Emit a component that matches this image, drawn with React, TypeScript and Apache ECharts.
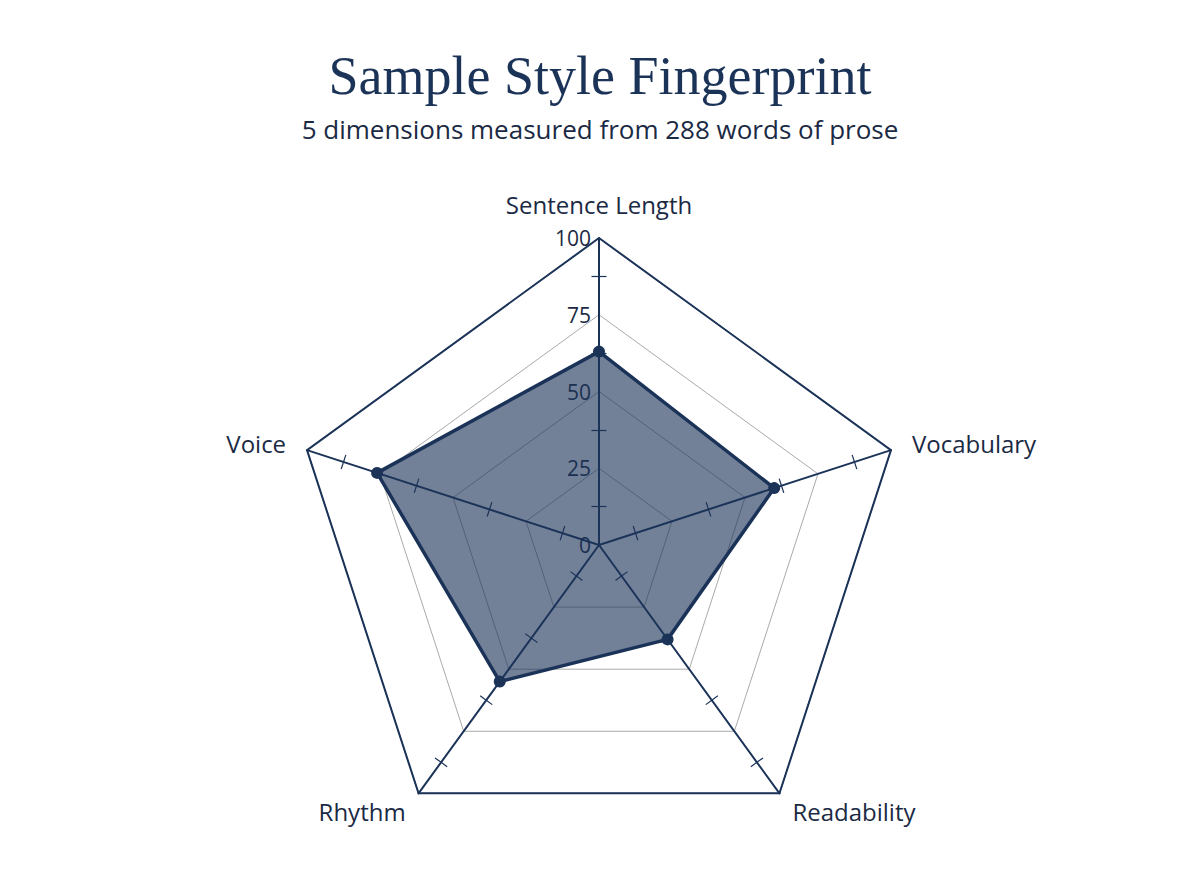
import { useRef, useEffect } from 'react';
import * as echarts from 'echarts';

// indicators listed counter-clockwise from the top
const dimensions = ['Sentence Length', 'Voice', 'Rhythm', 'Readability', 'Vocabulary'];
const scores = [63, 76, 55, 38, 60];
const maxScore = 100;

const NAVY = '#1c3358';
const TEXT = '#1b2a44';

export default function App() {
  const chartRef = useRef<HTMLDivElement>(null);

  useEffect(() => {
    if (!chartRef.current) return;
    const chart = echarts.init(chartRef.current, null, { renderer: 'svg' });

    // ticks drawn half on each side of the spoke (two stacked radars)
    const minorTick = (len: number) => ({
      show: true,
      splitNumber: 2,
      length: len,
      lineStyle: { color: NAVY, width: 1.2 },
    });

    const radarBase = {
      center: [591, 537],
      radius: 307,
      startAngle: 90,
      splitNumber: 4,
      shape: 'polygon' as const,
    };

    const option = {
      animation: false,
      backgroundColor: '#ffffff',
      title: [
        {
          text: 'Sample Style Fingerprint',
          left: 'center',
          top: 36,
          textStyle: {
            fontFamily: '"Liberation Serif", serif',
            fontWeight: 'normal',
            fontSize: 54,
            color: NAVY,
          },
        },
        {
          text: '5 dimensions measured from 288 words of prose',
          left: 'center',
          top: 103,
          textStyle: {
            fontFamily: '"Open Sans", sans-serif',
            fontWeight: 'normal',
            fontSize: 26,
            color: TEXT,
          },
        },
      ],
      radar: [
        {
          ...radarBase,
          nameGap: 22,
          axisName: {
            color: TEXT,
            fontFamily: '"Open Sans", sans-serif',
            fontSize: 24,
          },
          indicator: dimensions.map((name, i) => ({
            name,
            max: maxScore,
            min: 0,
            axisLabel: { show: i === 0 },
            minorTick: minorTick(7.5),
          })),
          axisLine: { lineStyle: { color: NAVY, width: 2 } },
          axisTick: { show: false },
          axisLabel: {
            show: true,
            color: TEXT,
            fontFamily: '"Open Sans", sans-serif',
            fontSize: 21,
            margin: 8,
          },
          splitLine: {
            lineStyle: {
              color: ['#aaaaaa', '#aaaaaa', '#aaaaaa', '#aaaaaa', NAVY],
              width: 1,
            },
          },
          splitArea: { show: false },
        },
        {
          ...radarBase,
          axisName: { show: false },
          indicator: dimensions.map((name) => ({
            name,
            max: maxScore,
            min: 0,
            axisLabel: { show: false },
            minorTick: minorTick(-7.5),
          })),
          axisLine: { show: false },
          axisTick: { show: false },
          axisLabel: { show: false },
          // heavier outer ring only
          splitLine: {
            lineStyle: {
              color: ['transparent', 'transparent', 'transparent', 'transparent', NAVY],
              width: 2,
            },
          },
          splitArea: { show: false },
        },
      ],
      series: [
        {
          type: 'radar',
          radarIndex: 0,
          symbol: 'circle',
          symbolSize: 12,
          lineStyle: { color: NAVY, width: 3.5 },
          itemStyle: { color: NAVY },
          areaStyle: { color: NAVY, opacity: 0.62 },
          data: [{ value: scores, name: 'Sample' }],
          z: 1,
        },
      ],
    };

    chart.setOption(option);

    const handleResize = () => chart.resize();
    window.addEventListener('resize', handleResize);
    return () => {
      window.removeEventListener('resize', handleResize);
      chart.dispose();
    };
  }, []);

  return <div ref={chartRef} style={{ width: 1184, height: 880 }} />;
}
